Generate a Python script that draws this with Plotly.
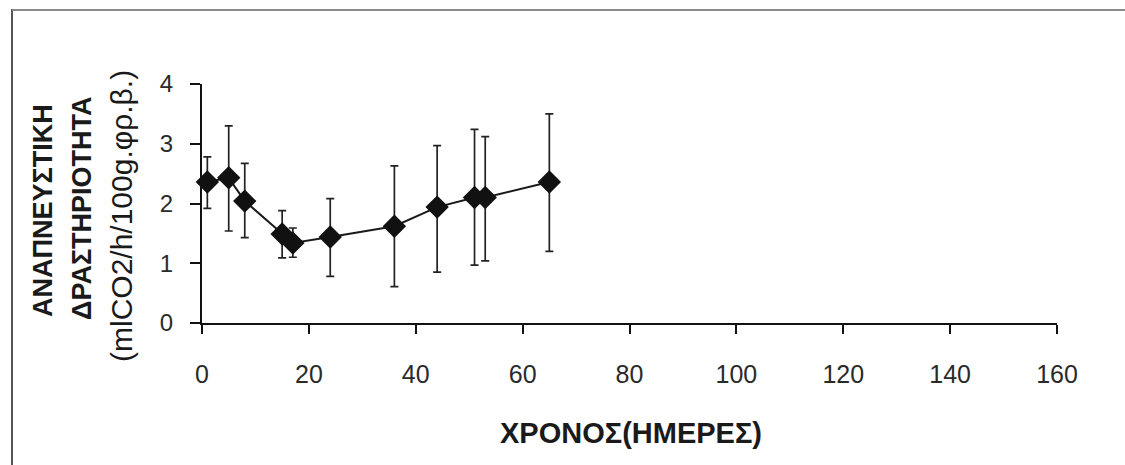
import plotly.graph_objects as go

days = [1, 5, 8, 15, 17, 24, 36, 44, 51, 53, 65]
activity = [2.36, 2.43, 2.04, 1.49, 1.34, 1.44, 1.62, 1.94, 2.10, 2.10, 2.36]
err_plus = [0.42, 0.87, 0.63, 0.39, 0.25, 0.64, 1.01, 1.03, 1.14, 1.02, 1.14]
err_minus = [0.44, 0.89, 0.61, 0.40, 0.24, 0.66, 1.01, 1.09, 1.13, 1.06, 1.16]

x_ticks = [0, 20, 40, 60, 80, 100, 120, 140, 160]
y_ticks = [0, 1, 2, 3, 4]

W, H = 1125, 465
L, R, T, B = 202, 68, 84, 142

fig = go.Figure()
fig.add_trace(go.Scatter(
    x=days, y=activity, mode="lines+markers",
    line=dict(color="#1a1a1a", width=2),
    marker=dict(symbol="diamond", size=18, color="#111111"),
    error_y=dict(type="data", symmetric=False, array=err_plus, arrayminus=err_minus,
                 color="#222222", thickness=1.7, width=4),
    cliponaxis=False, showlegend=False,
))

x_font = dict(family="Liberation Sans, Arial, sans-serif", size=25, color="#2a2a2a")
y_font = dict(family="Liberation Sans, Arial, sans-serif", size=24, color="#2a2a2a")
fig.update_layout(
    width=W, height=H,
    margin=dict(l=L, r=R, t=T, b=B),
    paper_bgcolor="white", plot_bgcolor="white",
    xaxis=dict(range=[0, 160], tickvals=x_ticks, ticktext=[str(v) for v in x_ticks],
               showgrid=False, zeroline=False, showline=True, linecolor="#111", linewidth=2,
               ticks="outside", ticklen=9, tickwidth=2, tickcolor="#111",
               tickfont=x_font, ticklabelstandoff=19),
    yaxis=dict(range=[0, 4], tickvals=y_ticks, ticktext=[str(v) for v in y_ticks],
               showgrid=False, zeroline=False, showline=True, linecolor="#111", linewidth=2,
               ticks="outside", ticklen=10, tickwidth=2, tickcolor="#111",
               tickfont=y_font, ticklabelstandoff=12),
)

pw, ph = W - L - R, H - T - B
def px(xp):
    return (xp - L) / pw
def py(yp):
    return (H - B - yp) / ph

fig.add_annotation(text="<b>ΧΡΟΝΟΣ(ΗΜΕΡΕΣ)</b>", xref="paper", yref="paper",
                   x=px(631), y=py(433), showarrow=False, xanchor="center", yanchor="middle",
                   font=dict(family="Liberation Sans Narrow, Arial Narrow, Liberation Sans", size=29, color="#1a1a1a"))
ytitles = [("<b>ΑΝΑΠΝΕΥΣΤΙΚΗ</b>", 43, 211, 27),
           ("<b>ΔΡΑΣΤΗΡΙΟΤΗΤΑ</b>", 82, 208, 27),
           ("(mlCO2/h/100g.φρ.β.)", 121, 216, 30)]
for txt, xx, yy, fs in ytitles:
    fig.add_annotation(text=txt, xref="paper", yref="paper", x=px(xx), y=py(yy),
                       showarrow=False, textangle=-90, xanchor="center", yanchor="middle",
                       font=dict(family="Liberation Sans, Arial, sans-serif", size=fs, color="#1a1a1a"))

# scanned page frame
fig.add_shape(type="line", xref="paper", yref="paper", x0=px(12), x1=px(12), y0=py(9), y1=py(465),
              line=dict(color="#555555", width=2))
fig.add_shape(type="line", xref="paper", yref="paper", x0=px(12), x1=px(1125), y0=py(10), y1=py(10),
              line=dict(color="#8a8a8a", width=2))

fig.write_html("out.html")
